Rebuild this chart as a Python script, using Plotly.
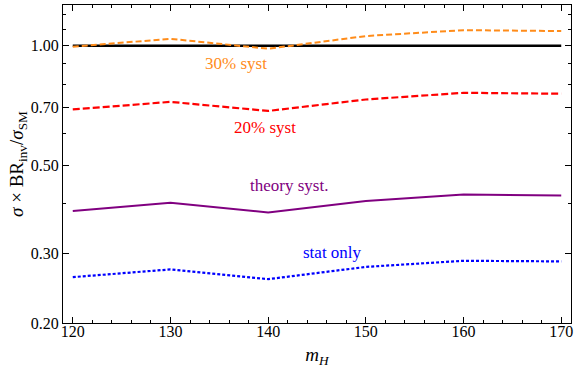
import plotly.graph_objects as go
import math

mH = [120, 130, 140, 150, 160, 170]
syst30 = [0.995, 1.041, 0.983, 1.058, 1.095, 1.089]
syst20 = [0.691, 0.722, 0.685, 0.732, 0.761, 0.757]
theory = [0.383, 0.402, 0.380, 0.406, 0.422, 0.419]
stat_only = [0.261, 0.273, 0.258, 0.277, 0.287, 0.286]
sm_line = [1.0, 1.0, 1.0, 1.0, 1.0, 1.0]

y_major = [0.2, 0.3, 0.5, 0.7, 1.0]
y_major_text = ["0.20", "0.30", "0.50", "0.70", "1.00"]
y_minor = [0.4, 0.6, 0.8, 0.9, 1.1, 1.2]
x_major = [120, 130, 140, 150, 160, 170]
x_minor = [122, 124, 126, 128, 132, 134, 136, 138, 142, 144, 146, 148,
           152, 154, 156, 158, 162, 164, 166, 168]

labels = [
    ("30% syst", 136.7, 0.904, "#FF8C1A"),
    ("20% syst", 139.7, 0.621, "#FF0000"),
    ("theory syst.", 142.1, 0.445, "#800080"),
    ("stat only", 146.6, 0.302, "#0000FF"),
]

FONT = "Liberation Serif, Times New Roman, serif"

fig = go.Figure()
fig.add_trace(go.Scatter(x=mH, y=sm_line, mode="lines",
                         line=dict(color="black", width=2.4)))
fig.add_trace(go.Scatter(x=mH, y=syst30, mode="lines",
                         line=dict(color="#FF8C1A", width=2, dash="6px,3px")))
fig.add_trace(go.Scatter(x=mH, y=syst20, mode="lines",
                         line=dict(color="#FF0000", width=2.2, dash="7px,3px")))
fig.add_trace(go.Scatter(x=mH, y=theory, mode="lines",
                         line=dict(color="#800080", width=2)))
fig.add_trace(go.Scatter(x=mH, y=stat_only, mode="lines",
                         line=dict(color="#0000FF", width=2.2, dash="3px,2px")))

for txt, lx, ly, col in labels:
    fig.add_annotation(x=lx, y=math.log10(ly), text=txt, showarrow=False,
                       font=dict(family=FONT, size=17, color=col))

fig.update_layout(
    width=576, height=369,
    margin=dict(l=63, r=3, t=5, b=46),
    paper_bgcolor="white", plot_bgcolor="white",
    showlegend=False,
    font=dict(family=FONT, size=16, color="black"),
    xaxis=dict(
        range=[119, 171], showgrid=False, zeroline=False,
        showline=True, linecolor="black", linewidth=1, mirror="ticks",
        ticks="inside", ticklen=6, tickcolor="black",
        tickvals=x_major, ticktext=[str(v) for v in x_major],
        tickfont=dict(family=FONT, size=16), ticklabelstandoff=-6,
        minor=dict(tickvals=x_minor, ticks="inside", ticklen=3, tickcolor="black"),
        title=dict(text="<i>m<sub>H</sub></i>", font=dict(family=FONT, size=19), standoff=8),
    ),
    yaxis=dict(
        type="log", range=[math.log10(0.2), math.log10(1.267)],
        showgrid=False, zeroline=False,
        showline=True, linecolor="black", linewidth=1, mirror="ticks",
        ticks="inside", ticklen=6, tickcolor="black",
        tickvals=y_major, ticktext=y_major_text,
        tickfont=dict(family=FONT, size=16),
        minor=dict(tickvals=y_minor, ticks="inside", ticklen=3, tickcolor="black"),
        title=dict(text="<i>σ</i> × BR<sub>inv</sub>/<i>σ</i><sub>SM</sub>",
                   font=dict(family=FONT, size=19), standoff=2),
    ),
)

fig.write_html("out.html", config={"displayModeBar": False},
               post_script="document.body.style.margin='0';document.body.style.overflow='hidden';")
